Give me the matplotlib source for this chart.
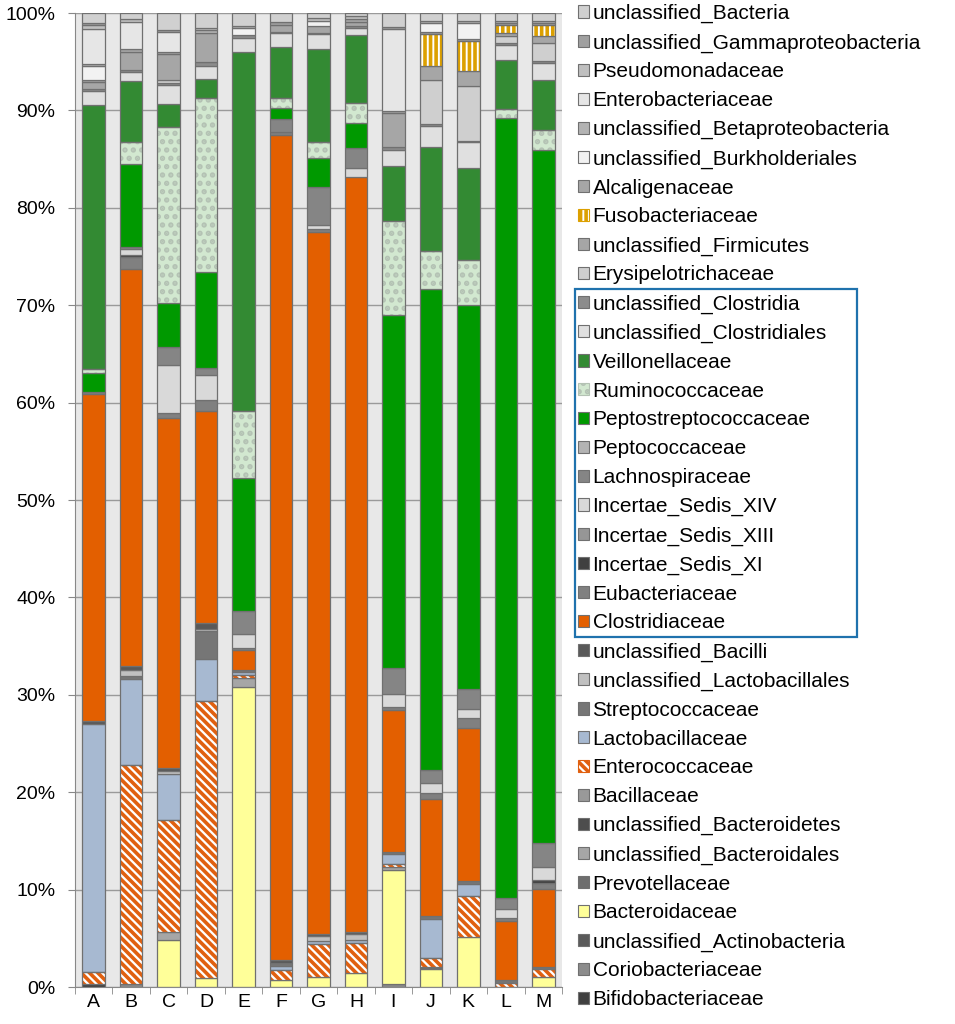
import numpy as np
import matplotlib
matplotlib.use("Agg")
import matplotlib.pyplot as plt
from matplotlib.patches import Patch, Rectangle

samples = list("ABCDEFGHIJKLM")

# relative abundance (%) per family, samples A..M
bifidobacteriaceae = [0.3, 0, 0, 0, 0, 0, 0, 0, 0, 0, 0, 0, 0]
coriobacteriaceae = [0, 0.3, 0, 0, 0, 0, 0, 0, 0.3, 0, 0, 0, 0]
uncl_actinobacteria = [0, 0, 0, 0, 0, 0, 0, 0, 0, 0, 0, 0, 0]
bacteroidaceae = [0, 0, 4.8, 0.9, 31.0, 0.7, 1.0, 1.4, 11.6, 1.8, 5.1, 0, 1.0]
prevotellaceae = [0, 0, 0, 0, 0, 0, 0, 0, 0, 0.2, 0, 0, 0]
uncl_bacteroidales = [0, 0, 0.8, 0, 1.0, 0, 0, 0, 0.3, 0, 0, 0, 0]
uncl_bacteroidetes = [0, 0, 0, 0, 0, 0, 0, 0, 0, 0, 0, 0, 0]
bacillaceae = [0, 0, 0, 0, 0, 0, 0, 0, 0, 0, 0, 0, 0]
enterococcaceae = [1.2, 22.4, 11.5, 28.6, 0.3, 1.1, 3.4, 3.1, 0.3, 1.0, 4.2, 0.4, 0.8]
lactobacillaceae = [25.5, 8.9, 4.8, 4.3, 0.3, 0.4, 0.3, 0.3, 1.0, 3.9, 1.2, 0, 0]
streptococcaceae = [0, 0.3, 0, 2.9, 0.2, 0.3, 0, 0, 0.2, 0.3, 0.3, 0.3, 0.2]
uncl_lactobacillales = [0, 0.6, 0.3, 0.2, 0, 0, 0.5, 0.6, 0, 0, 0, 0, 0]
uncl_bacilli = [0.3, 0.4, 0.3, 0.6, 0, 0.3, 0.2, 0.2, 0, 0, 0, 0, 0]
clostridiaceae = [33.6, 40.7, 35.9, 21.8, 2.0, 84.7, 72.0, 77.2, 14.5, 12.0, 15.6, 6.0, 8.0]
eubacteriaceae = [0.2, 1.2, 0.5, 1.2, 0.2, 0.3, 0.3, 0, 0.3, 0.6, 1.0, 0.3, 0.6]
incertae_sedis_xi = [0, 0.2, 0, 0, 0, 0, 0, 0, 0, 0, 0, 0, 0.3]
incertae_sedis_xiii = [0, 0, 0, 0, 0, 0, 0, 0, 0, 0, 0, 0, 0]
incertae_sedis_xiv = [0, 0.6, 5.0, 2.5, 1.5, 0, 0.5, 0.9, 1.3, 1.0, 0.9, 1.0, 1.3]
lachnospiraceae = [0, 0.2, 1.8, 0.7, 2.4, 1.3, 3.9, 2.1, 2.6, 1.3, 2.1, 1.1, 2.4]
peptococcaceae = [0, 0, 0, 0, 0, 0, 0, 0, 0, 0, 0, 0, 0]
peptostreptococcaceae = [1.9, 8.5, 4.5, 9.9, 13.7, 1.1, 2.9, 2.6, 35.9, 49.1, 39.1, 79.5, 70.5]
ruminococcaceae = [0.4, 2.3, 18.1, 17.9, 7.0, 1.1, 1.7, 2.0, 9.6, 3.9, 4.6, 0.9, 2.0]
veillonellaceae = [27.2, 6.2, 2.4, 2.0, 37.1, 5.2, 9.5, 6.9, 5.6, 10.6, 9.4, 5.0, 5.1]
uncl_clostridiales = [1.4, 1.0, 1.9, 1.3, 1.4, 1.4, 1.5, 0.8, 1.6, 2.2, 2.6, 1.5, 1.7]
uncl_clostridia = [0.2, 0.2, 0.2, 0.5, 0.3, 0.2, 0.2, 0.2, 0.3, 0.2, 0.2, 0.2, 0.2]
erysipelotrichaceae = [0, 0, 0.3, 0, 0, 0, 0, 0, 0, 4.5, 5.6, 0.8, 1.9]
uncl_firmicutes = [0.7, 1.8, 2.7, 2.9, 0, 0.7, 0.7, 0.4, 3.4, 1.4, 1.5, 0.3, 0.7]
fusobacteriaceae = [0, 0, 0, 0, 0, 0, 0, 0, 0, 3.3, 3.0, 0.8, 1.1]
alcaligenaceae = [0.2, 0.3, 0.2, 0, 0, 0, 0, 0.3, 0.2, 0.2, 0.3, 0.2, 0.2]
uncl_burkholderiales = [1.5, 0, 0, 0, 0.7, 0, 0.5, 0, 0, 0.9, 1.6, 0, 0]
uncl_betaproteobacteria = [0.2, 0, 0, 0.3, 0.3, 0, 0, 0, 0, 0.2, 0.2, 0.2, 0.2]
enterobacteriaceae = [3.6, 2.8, 2.0, 0, 0, 0, 0, 0, 8.4, 0, 0, 0, 0]
pseudomonadaceae = [0.4, 0.3, 0, 0.3, 0, 0, 0.3, 0.3, 0, 0, 0, 0, 0]
uncl_gammaproteobacteria = [0.2, 0, 0.3, 0, 0, 0.3, 0, 0, 0.2, 0, 0, 0, 0]
uncl_bacteria = [1.0, 0.6, 1.7, 1.5, 1.3, 0.9, 0.5, 0.3, 1.4, 0.8, 0.8, 0.8, 0.8]

# stacking order, bottom to top
taxa = [
    ("Bifidobacteriaceae", bifidobacteriaceae),
    ("Coriobacteriaceae", coriobacteriaceae),
    ("unclassified_Actinobacteria", uncl_actinobacteria),
    ("Bacteroidaceae", bacteroidaceae),
    ("Prevotellaceae", prevotellaceae),
    ("unclassified_Bacteroidales", uncl_bacteroidales),
    ("unclassified_Bacteroidetes", uncl_bacteroidetes),
    ("Bacillaceae", bacillaceae),
    ("Enterococcaceae", enterococcaceae),
    ("Lactobacillaceae", lactobacillaceae),
    ("Streptococcaceae", streptococcaceae),
    ("unclassified_Lactobacillales", uncl_lactobacillales),
    ("unclassified_Bacilli", uncl_bacilli),
    ("Clostridiaceae", clostridiaceae),
    ("Eubacteriaceae", eubacteriaceae),
    ("Incertae_Sedis_XI", incertae_sedis_xi),
    ("Incertae_Sedis_XIII", incertae_sedis_xiii),
    ("Incertae_Sedis_XIV", incertae_sedis_xiv),
    ("Lachnospiraceae", lachnospiraceae),
    ("Peptococcaceae", peptococcaceae),
    ("Peptostreptococcaceae", peptostreptococcaceae),
    ("Ruminococcaceae", ruminococcaceae),
    ("Veillonellaceae", veillonellaceae),
    ("unclassified_Clostridiales", uncl_clostridiales),
    ("unclassified_Clostridia", uncl_clostridia),
    ("Erysipelotrichaceae", erysipelotrichaceae),
    ("unclassified_Firmicutes", uncl_firmicutes),
    ("Fusobacteriaceae", fusobacteriaceae),
    ("Alcaligenaceae", alcaligenaceae),
    ("unclassified_Burkholderiales", uncl_burkholderiales),
    ("unclassified_Betaproteobacteria", uncl_betaproteobacteria),
    ("Enterobacteriaceae", enterobacteriaceae),
    ("Pseudomonadaceae", pseudomonadaceae),
    ("unclassified_Gammaproteobacteria", uncl_gammaproteobacteria),
    ("unclassified_Bacteria", uncl_bacteria),
]

# fill colour, hatch, hatch colour (same order as taxa)
styles = [
    ("#404040", None, None),
    ("#8c8c8c", None, None),
    ("#5a5a5a", None, None),
    ("#ffff99", None, None),
    ("#6e6e6e", None, None),
    ("#a6a6a6", None, None),
    ("#4d4d4d", None, None),
    ("#999999", None, None),
    ("white", "\\\\\\\\", "#e06010"),
    ("#a7b9d1", None, None),
    ("#767676", None, None),
    ("#c0c0c0", None, None),
    ("#595959", None, None),
    ("#e35f00", None, None),
    ("#808080", None, None),
    ("#404040", None, None),
    ("#969696", None, None),
    ("#d9d9d9", None, None),
    ("#858585", None, None),
    ("#b3b3b3", None, None),
    ("#009900", None, None),
    ("#d2e8d0", "..", "#b4c2b4"),
    ("#338a33", None, None),
    ("#e0e0e0", None, None),
    ("#8c8c8c", None, None),
    ("#cfcfcf", None, None),
    ("#a6a6a6", None, None),
    ("white", "|||", "#dca000"),
    ("#a6a6a6", None, None),
    ("#f2f2f2", None, None),
    ("#b3b3b3", None, None),
    ("#e6e6e6", None, None),
    ("#bfbfbf", None, None),
    ("#a0a0a0", None, None),
    ("#d0d0d0", None, None),
]

EDGE = "#707070"

plt.rcParams["font.family"] = ["Liberation Sans", "DejaVu Sans"]
plt.rcParams["hatch.linewidth"] = 2.6

fig = plt.figure(figsize=(9.55, 10.24), dpi=100)
ax = fig.add_axes([0.0785, 0.0361, 0.51, 0.9512])
ax.set_facecolor("#e8e8e8")

data = np.array([v for _, v in taxa], dtype=float)
data = data / data.sum(axis=0) * 100
x = np.arange(len(samples))
bottom = np.zeros(len(samples))
width = 0.6

for i, (name, _) in enumerate(taxa):
    h = data[i]
    m = h > 0
    fc, hatch, hc = styles[i]
    if m.any():
        if hatch:
            ax.bar(x[m], h[m], width, bottom=bottom[m], color=fc,
                   edgecolor=hc, hatch=hatch, linewidth=0, zorder=2)
            ax.bar(x[m], h[m], width, bottom=bottom[m], fill=False,
                   edgecolor=EDGE, linewidth=0.9, zorder=3)
        else:
            ax.bar(x[m], h[m], width, bottom=bottom[m], color=fc,
                   edgecolor=EDGE, linewidth=0.9, zorder=2)
    bottom += h

ax.set_xlim(-0.5, len(samples) - 0.5)
ax.set_ylim(0, 100)
ax.set_xticks(x, samples)
ax.set_xticks(np.arange(-0.5, len(samples), 1), minor=True)
ax.tick_params(axis="x", which="major", length=0, pad=5, labelsize=14)
ax.tick_params(axis="x", which="minor", length=5, color="#888888")
ax.set_yticks(np.arange(0, 101, 10), [f"{v}%" for v in range(0, 101, 10)])
ax.tick_params(axis="y", length=5, color="#888888", labelsize=14, pad=9)
ax.yaxis.grid(True, color="#9a9a9a", linewidth=1)
ax.set_axisbelow(True)
for s in ("top", "right"):
    ax.spines[s].set_visible(False)
for s in ("left", "bottom"):
    ax.spines[s].set_color("#888888")

# legend: top of the stack first
handles = []
labels = []
for i in reversed(range(len(taxa))):
    fc, hatch, hc = styles[i]
    if hatch:
        handles.append(Patch(facecolor=fc, edgecolor=hc, hatch=hatch, linewidth=0.8))
    else:
        handles.append(Patch(facecolor=fc, edgecolor=EDGE, linewidth=0.8))
    labels.append(taxa[i][0])

leg = fig.legend(handles, labels, loc="upper left", bbox_to_anchor=(0.603, 0.998),
                 frameon=False, fontsize=15, handlelength=0.55, handleheight=0.55,
                 handletextpad=0.15, labelspacing=0.475, borderpad=0.1,
                 borderaxespad=0)

# blue box around the Clostridia entries
fig.canvas.draw()
r = fig.canvas.get_renderer()
texts = leg.get_texts()
i0 = labels.index("unclassified_Clostridia")
i1 = labels.index("Clostridiaceae")


def yc(t):
    b = t.get_window_extent(r)
    return (b.y0 + b.y1) / 2


y_top = (yc(texts[i0 - 1]) + yc(texts[i0])) / 2
y_bot = (yc(texts[i1]) + yc(texts[i1 + 1])) / 2
x_left = leg.legend_handles[i0].get_window_extent(r).x0 - 3
x_right = max(texts[k].get_window_extent(r).x1 for k in range(i0, i1 + 1)) + 30
W, H = fig.bbox.width, fig.bbox.height
fig.add_artist(Rectangle((x_left / W, y_bot / H), (x_right - x_left) / W,
                         (y_top - y_bot) / H, transform=fig.transFigure,
                         fill=False, edgecolor="#1f72ad", linewidth=1.6))

fig.savefig("out.png", dpi=100)
